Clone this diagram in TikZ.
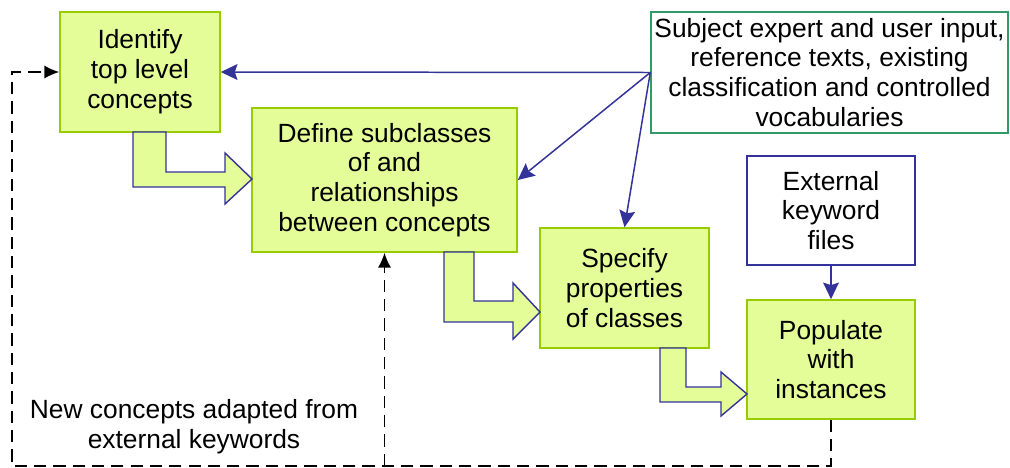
\documentclass[tikz,border=0pt]{standalone}
\usepackage{fontspec}
\setmainfont{Liberation Sans}
\usetikzlibrary{arrows.meta}

\definecolor{stagefill}{RGB}{228,253,153}
\definecolor{stageedge}{RGB}{153,204,0}
\definecolor{flowblue}{RGB}{51,51,153}
\definecolor{srcgreen}{RGB}{51,153,102}

\begin{document}
\begin{tikzpicture}[x=0.02cm,y=-0.02cm,
  txt/.style={align=center,inner sep=1pt,font=\fontsize{15}{17}\selectfont},
  stagebox/.style={txt,draw=stageedge,fill=stagefill,line width=0.9pt},
  srcbox/.style={txt,draw=#1,line width=0.9pt},
  bendarrow/.style={draw=flowblue,fill=stagefill,line width=0.8pt,line join=miter},
  feed/.style={draw=flowblue,line width=0.85pt,-{Stealth[length=9.5pt,width=9pt,inset=1.5pt]}},
  loopback/.style={draw=black,line width=0.85pt,dash pattern=on 7pt off 4pt,-{Latex[length=8.5pt,width=7.5pt]}}]

\useasboundingbox (0,0) rectangle (1010,467);

% Stages
\node[stagebox,minimum width=3.2cm,minimum height=2.4cm] (top) at (140,72) {Identify\\top level\\concepts};
\node[stagebox,minimum width=5.3cm,minimum height=2.88cm] (def) at (384.5,180) {Define subclasses\\of and\\relationships\\between concepts};
\node[stagebox,minimum width=3.38cm,minimum height=2.4cm] (spec) at (624.5,288) {Specify\\properties\\of classes};
\node[stagebox,minimum width=3.36cm,minimum height=2.38cm] (pop) at (831,359.5) {Populate\\with\\instances};

% Sources
\node[srcbox=srcgreen,minimum width=7.14cm,minimum height=2.42cm] (src) at (829.5,72.5) {Subject expert and user input,\\reference texts, existing\\classification and controlled\\vocabularies};
\node[srcbox=flowblue,minimum width=3.36cm,minimum height=2.18cm] (ext) at (831,210.5) {External\\keyword\\files};

% Block arrows between stages
\draw[bendarrow] (133,132) -- (166,132) -- (166,172) -- (225,172) -- (225,153) -- (252,179)
  -- (225,204) -- (225,187) -- (133,187) -- cycle;
\draw[bendarrow] (444,252) -- (474,252) -- (474,301) -- (513,301) -- (513,283) -- (540,312)
  -- (513,339) -- (513,322) -- (444,322) -- cycle;
\draw[bendarrow] (660,348) -- (686,348) -- (686,387) -- (721,387) -- (721,372) -- (747,394)
  -- (721,416) -- (721,402) -- (660,402) -- cycle;

% Inputs
\draw[feed] (src.west) -- (top.east);
\draw[feed] (src.west) -- (def.east);
\draw[feed] (src.west) -- (spec.north);
\draw[feed] (ext.south) -- (pop.north);

% Feedback loop
\coordinate (cornerR) at (831,466);
\coordinate (cornerL) at (12,466);
\coordinate (cornerT) at (12,72);
\coordinate (branch) at (384.5,466);
\draw[loopback] (pop.south) -- (cornerR) -- (cornerL) -- (cornerT) -- (top.west);
\draw[loopback] (branch) -- (def.south);
\node[txt] (newc) at (194,427) {New concepts adapted from\\external keywords};

\end{tikzpicture}
\end{document}
